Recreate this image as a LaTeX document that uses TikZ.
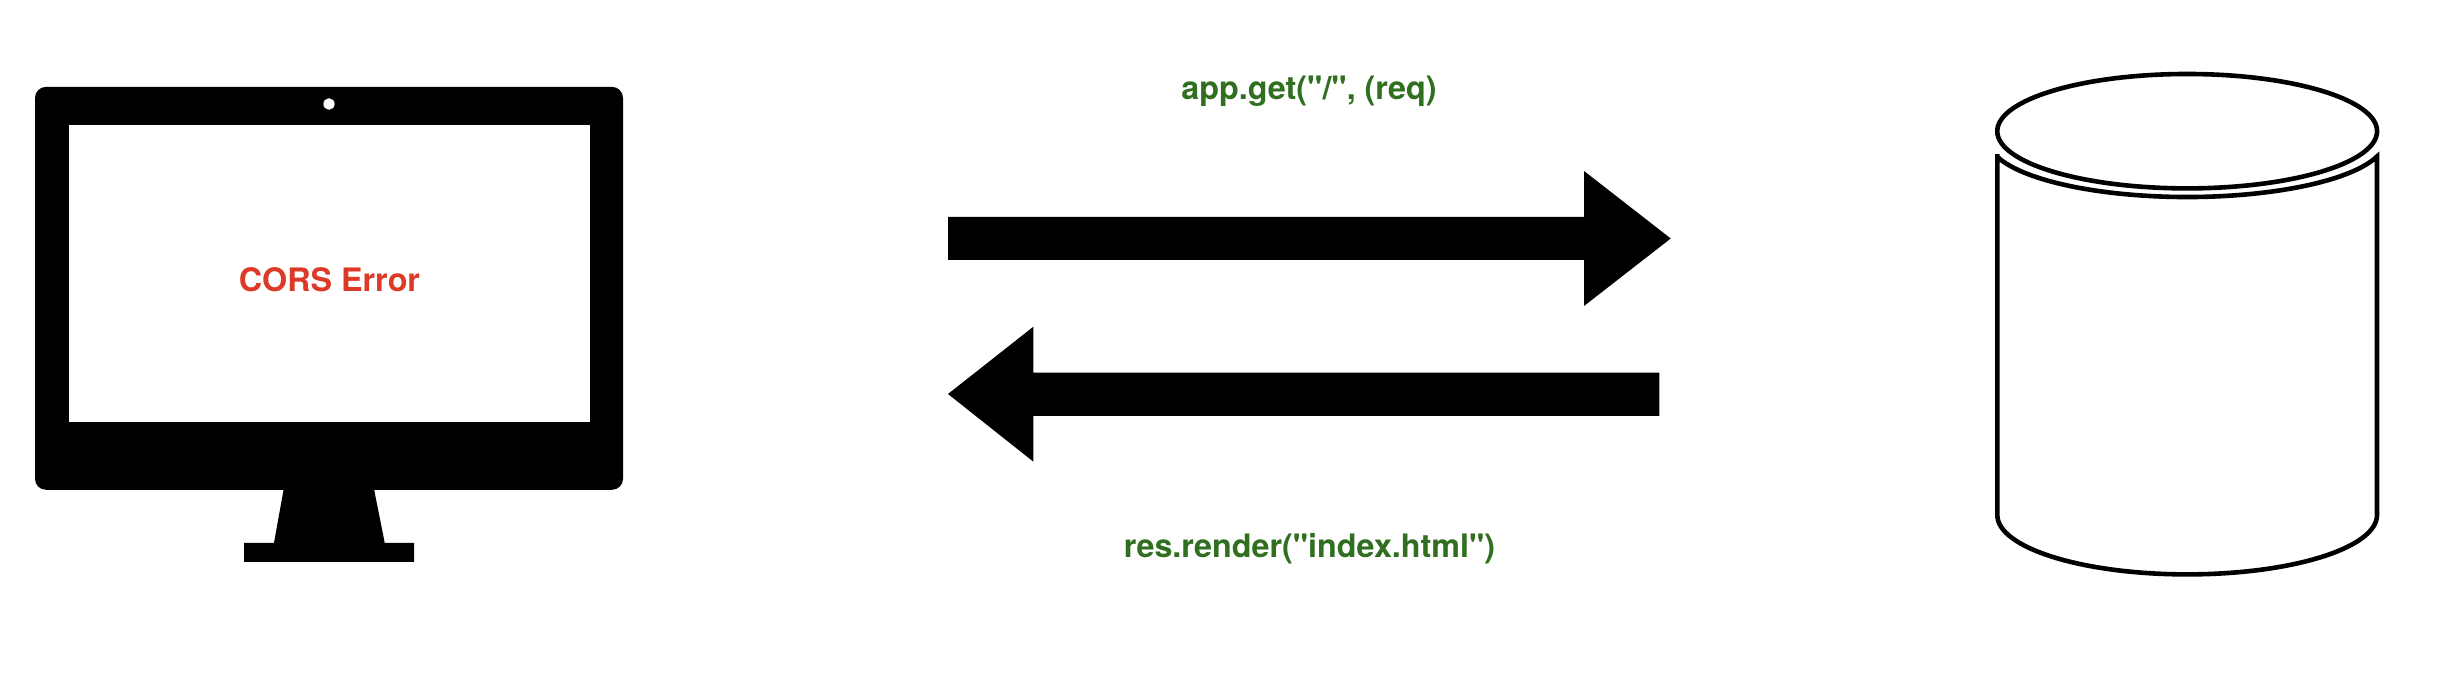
\documentclass[tikz,border=0pt]{standalone}
\usepackage{fontspec}
\setmainfont{TeX Gyre Heros}[Ligatures=TeXOff]
\definecolor{errred}{HTML}{DC3A27}
\definecolor{codegreen}{HTML}{2F6F1F}
\tikzset{
  x=1pt,y=1pt,
  solid black/.style={fill=black,draw=none},
  label text/.style={inner sep=0pt,anchor=base,font=\fontsize{32.3}{36}\selectfont\bfseries},
  db line/.style={draw=black,line width=4.6pt,fill=white,miter limit=20}
}
\begin{document}
\begin{tikzpicture}
\useasboundingbox (0,0) rectangle (2448,684);
\fill[white] (0,0) rectangle (2448,684);
% monitor
\path[solid black,rounded corners=11pt] (35,194.2) rectangle (623,597.1);
\fill[white] (68.6,262.4) rectangle (590,559.3);
\path[solid black] (283.7,195) -- (374,195) -- (384.7,141.2) -- (414,141.2) -- (414,122) -- (244,122) -- (244,141.2) -- (274,141.2) -- cycle;
\fill[white] (329,580) ellipse [x radius=5.6,y radius=5.8];
\node[label text,text=errred] (err) at (329.5,392.6) {CORS Error};
% arrows
\path[solid black] (948,467) -- (1584,467) -- (1584,513) -- (1670.7,445.5) -- (1584,378) -- (1584,424) -- (948,424) -- cycle;
\path[solid black] (948,290) -- (1033.4,357.3) -- (1033.4,311.3) -- (1659.3,311.3) -- (1659.3,268) -- (1033.4,268) -- (1033.4,222.3) -- cycle;
\node[label text,text=codegreen] (req) at (1309,584.5) {app.get("/", (req)};
\node[label text,text=codegreen] (res) at (1309.5,126.5) {res.render("index.html")};
% cylinder
\begin{scope}
\clip (1995,0) rectangle (2379.3,684);
\path[db line] (1997.3,527.5) -- (1997.3,169) arc[start angle=180,end angle=360,x radius=189.85,y radius=59.4] -- (2377,527.5) arc[start angle=343.2,end angle=196.8,x radius=198.5,y radius=57] -- cycle;
\end{scope}
\path[db line] (2187.15,552.8) ellipse [x radius=189.9,y radius=57.2];
\end{tikzpicture}
\end{document}
